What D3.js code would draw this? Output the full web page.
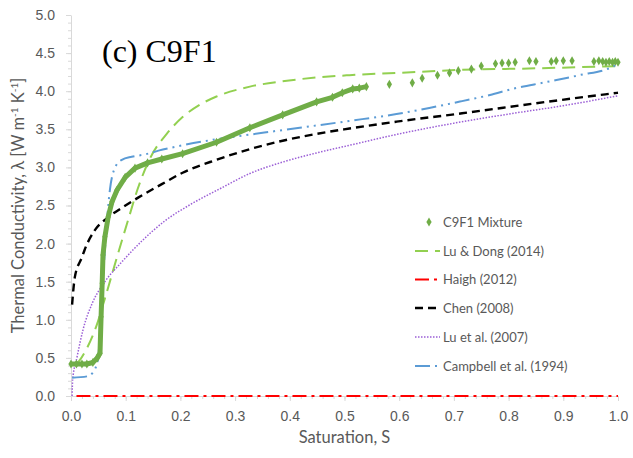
<!DOCTYPE html>
<html>
<head>
<meta charset="utf-8">
<script src="https://cdn.jsdelivr.net/npm/d3@7"></script>
<style>
  body { margin: 0; background: #fff; }
  svg { display: block; font-family: Lato, "Open Sans", sans-serif; }
  .tick text { fill: #595959; font-size: 14px; }
  .axis path, .axis line { stroke: #d9d9d9; }
</style>
</head>
<body>
<svg id="chart"></svg>
<script>
// C9F1 mixture measurements (dense part drawn as a thick trace, the rest as markers)
const mixDenseS = [0, 0.01, 0.02, 0.029, 0.04, 0.048, 0.053, 0.055, 0.057, 0.0585, 0.062, 0.068, 0.075, 0.084, 0.099, 0.117, 0.14, 0.166, 0.204, 0.266, 0.327, 0.387, 0.449, 0.478, 0.496, 0.515, 0.527, 0.54];
const mixDenseK = [0.42, 0.42, 0.42, 0.42, 0.44, 0.50, 0.56, 1.04, 1.48, 1.85, 2.09, 2.35, 2.55, 2.70, 2.87, 2.99, 3.06, 3.11, 3.18, 3.33, 3.52, 3.69, 3.86, 3.92, 3.98, 4.03, 4.04, 4.06];
const mixSparseS = [0.582, 0.624, 0.642, 0.670, 0.692, 0.708, 0.732, 0.75, 0.776, 0.788, 0.80, 0.812, 0.838, 0.85, 0.878, 0.887, 0.90, 0.916, 0.956, 0.965, 0.972, 0.978, 0.984, 0.99, 0.995, 1.0];
const mixSparseK = [4.09, 4.11, 4.17, 4.21, 4.24, 4.27, 4.29, 4.33, 4.36, 4.37, 4.37, 4.38, 4.40, 4.39, 4.39, 4.40, 4.40, 4.40, 4.39, 4.40, 4.39, 4.38, 4.39, 4.38, 4.39, 4.38];

// model curves
const luDongS = [0.01, 0.016, 0.03, 0.047, 0.062, 0.084, 0.104, 0.122, 0.146, 0.175, 0.204, 0.235, 0.266, 0.327, 0.387, 0.449, 0.509, 0.595, 0.715, 0.85, 1.0];
const luDongK = [0.42, 0.47, 0.64, 0.93, 1.28, 1.82, 2.30, 2.72, 3.14, 3.44, 3.66, 3.82, 3.93, 4.06, 4.13, 4.18, 4.21, 4.24, 4.28, 4.30, 4.33];
const haighS = [0.01, 1.0];
const haighK = [0, 0];
const chenS = [0.002, 0.007, 0.02, 0.025, 0.044, 0.067, 0.093, 0.122, 0.166, 0.204, 0.266, 0.327, 0.387, 0.449, 0.509, 0.595, 0.715, 0.869, 1.0];
const chenK = [1.20, 1.56, 1.82, 1.92, 2.18, 2.34, 2.47, 2.60, 2.78, 2.93, 3.10, 3.24, 3.35, 3.44, 3.51, 3.60, 3.71, 3.86, 3.98];
const luS = [0.002, 0.003, 0.011, 0.022, 0.039, 0.062, 0.093, 0.129, 0.172, 0.22, 0.275, 0.327, 0.387, 0.449, 0.509, 0.6, 0.7, 0.8, 0.9, 1.0];
const luK = [0.0, 0.21, 0.51, 0.87, 1.22, 1.50, 1.76, 2.03, 2.30, 2.52, 2.73, 2.92, 3.07, 3.19, 3.29, 3.44, 3.58, 3.70, 3.81, 3.94];
const campS = [0.002, 0.031, 0.04, 0.049, 0.058, 0.062, 0.071, 0.08, 0.093, 0.111, 0.135, 0.16, 0.204, 0.266, 0.327, 0.387, 0.449, 0.509, 0.595, 0.655, 0.715, 0.766, 0.807, 0.869, 0.929, 0.99, 1.0];
const campK = [0.24, 0.26, 0.31, 0.47, 1.48, 1.92, 2.70, 2.99, 3.10, 3.14, 3.17, 3.22, 3.29, 3.37, 3.43, 3.49, 3.55, 3.61, 3.70, 3.78, 3.87, 3.95, 4.03, 4.12, 4.21, 4.32, 4.36];

const legendNames = ['C9F1 Mixture', 'Lu & Dong (2014)', 'Haigh (2012)', 'Chen (2008)', 'Lu et al. (2007)', 'Campbell et al. (1994)'];
const xTicks = [0, 0.1, 0.2, 0.3, 0.4, 0.5, 0.6, 0.7, 0.8, 0.9, 1.0];
const yTicks = [0, 0.5, 1.0, 1.5, 2.0, 2.5, 3.0, 3.5, 4.0, 4.5, 5.0];

const zip = (xs, ys) => xs.map((x, i) => ({ s: x, k: ys[i] }));

const series = [
  { name: legendNames[1], data: zip(luDongS, luDongK), color: '#92d050', width: 2, dash: '13,7' },
  { name: legendNames[2], data: zip(haighS, haighK), color: '#ff0000', width: 2.2, dash: '14,5,3,5' },
  { name: legendNames[3], data: zip(chenS, chenK), color: '#000000', width: 2.4, dash: '8,5' },
  { name: legendNames[4], data: zip(luS, luK), color: '#9b5fd6', width: 1.5, dash: '1.5,1.5' },
  { name: legendNames[5], data: zip(campS, campK), color: '#5b9bd5', width: 2, dash: '15,5,2,5,2,5' }
];

const config = {
  width: 633, height: 458,
  margin: { top: 15, right: 15, bottom: 62, left: 71 }
};

const innerW = config.width - config.margin.left - config.margin.right;
const innerH = config.height - config.margin.top - config.margin.bottom;

const svg = d3.select('#chart')
  .attr('width', config.width)
  .attr('height', config.height);

const chart = svg.append('g')
  .attr('transform', `translate(${config.margin.left},${config.margin.top})`);

const xScale = d3.scaleLinear().domain([0, 1]).range([0, innerW]);
const yScale = d3.scaleLinear().domain([0, 5]).range([innerH, 0]);

// minor ticks first so majors sit on top
chart.append('g')
  .attr('class', 'axis')
  .attr('transform', `translate(0,${innerH})`)
  .call(d3.axisBottom(xScale).tickValues(d3.range(0, 1.001, 0.02)).tickSize(3).tickFormat(''))
  .call(g => g.select('.domain').remove());

chart.append('g')
  .attr('class', 'axis')
  .call(d3.axisLeft(yScale).tickValues(d3.range(0, 5.001, 0.1)).tickSize(3).tickFormat(''))
  .call(g => g.select('.domain').remove());

chart.append('g')
  .attr('class', 'axis x-axis')
  .attr('transform', `translate(0,${innerH})`)
  .call(d3.axisBottom(xScale).tickValues(xTicks).tickSize(5).tickSizeOuter(0).tickPadding(10).tickFormat(d3.format('.1f')));

chart.append('g')
  .attr('class', 'axis y-axis')
  .call(d3.axisLeft(yScale).tickValues(yTicks).tickSize(5).tickSizeOuter(0).tickPadding(11).tickFormat(d3.format('.1f')));

// model lines
const line = d3.line()
  .x(d => xScale(d.s))
  .y(d => yScale(d.k))
  .curve(d3.curveMonotoneX);

chart.selectAll('.model')
  .data(series)
  .join('path')
  .attr('class', 'model')
  .attr('fill', 'none')
  .attr('stroke', d => d.color)
  .attr('stroke-width', d => d.width)
  .attr('stroke-dasharray', d => d.dash)
  .attr('d', d => line(d.data));

// measured data
const mixColor = '#70ad47';
chart.append('path')
  .attr('fill', 'none')
  .attr('stroke', mixColor)
  .attr('stroke-width', 5)
  .attr('stroke-linejoin', 'round')
  .attr('d', d3.line().x(d => xScale(d.s)).y(d => yScale(d.k))(zip(mixDenseS, mixDenseK)));

const diamond = d3.symbol().type(d3.symbolDiamond).size(24);
chart.selectAll('.mix-point')
  .data(zip(mixDenseS, mixDenseK).concat(zip(mixSparseS, mixSparseK)))
  .join('path')
  .attr('class', 'mix-point')
  .attr('transform', d => `translate(${xScale(d.s)},${yScale(d.k)})`)
  .attr('d', diamond)
  .attr('fill', mixColor);

// title inside plot
svg.append('text')
  .attr('x', 102)
  .attr('y', 62)
  .style('font-family', '"Liberation Serif", "Times New Roman", serif')
  .style('font-size', '32px')
  .attr('fill', '#000')
  .text('(c) C9F1');

// axis titles
svg.append('text')
  .attr('x', config.margin.left + innerW / 2)
  .attr('y', 443)
  .attr('text-anchor', 'middle')
  .attr('fill', '#595959')
  .style('font-size', '16.5px')
  .text('Saturation, S');

const yLabel = svg.append('text')
  .attr('transform', `translate(24,${config.margin.top + innerH / 2}) rotate(-90)`)
  .attr('text-anchor', 'middle')
  .attr('fill', '#595959')
  .style('font-size', '16.5px');
yLabel.append('tspan').text('Thermal Conductivity, λ [W m');
yLabel.append('tspan').attr('dy', -6).style('font-size', '10px').text('-1');
yLabel.append('tspan').attr('dy', 6).text(' K');
yLabel.append('tspan').attr('dy', -6).style('font-size', '10px').text('-1');
yLabel.append('tspan').attr('dy', 6).text(']');

// legend
const legendY = [222, 251, 279.5, 308, 337, 366];
const legend = svg.append('g');
legendNames.forEach((name, i) => {
  const row = legend.append('g').attr('transform', `translate(0,${legendY[i]})`);
  if (i === 0) {
    row.append('path')
      .attr('transform', 'translate(429,0)')
      .attr('d', diamond)
      .attr('fill', mixColor);
  } else {
    const s = series[i - 1];
    row.append('line')
      .attr('x1', 415).attr('x2', 440)
      .attr('stroke', s.color)
      .attr('stroke-width', s.width)
      .attr('stroke-dasharray', s.dash);
  }
  row.append('text')
    .attr('x', 443)
    .attr('dy', '0.35em')
    .attr('fill', '#595959')
    .style('font-size', '13px')
    .text(name);
});
</script>
</body>
</html>
